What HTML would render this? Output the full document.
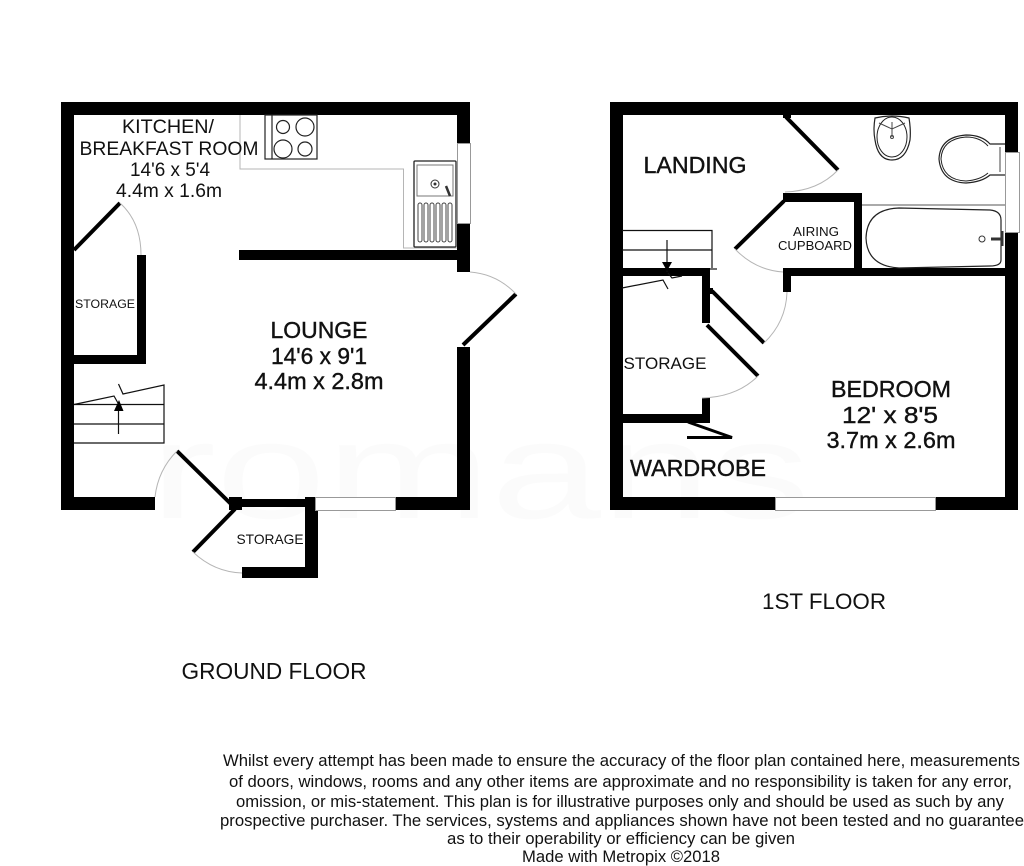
<!DOCTYPE html>
<html><head><meta charset="utf-8"><style>
html,body{margin:0;padding:0;background:#fff}
svg{display:block}
text{font-family:"Liberation Sans",sans-serif;fill:#111}
.c{text-anchor:middle}
.g{fill:none;stroke:#b5b5b5;stroke-width:1}
.d{stroke:#000;stroke-width:4;fill:none}
.l{stroke:#222;stroke-width:1.2;fill:none}
.w{fill:#fff;stroke:#999;stroke-width:1}
</style></head><body>
<svg width="1024" height="866" viewBox="0 0 1024 866" xmlns="http://www.w3.org/2000/svg">
<rect width="1024" height="866" fill="#fff"/>
<text x="150" y="518" font-size="138" textLength="660" lengthAdjust="spacingAndGlyphs" style="fill:#fbfbfb">romans</text>

<!-- GROUND FLOOR -->
<g fill="#000">
<rect x="61" y="102" width="409" height="13"/>
<rect x="61" y="102" width="13" height="408"/>
<rect x="61" y="497" width="94" height="13"/>
<rect x="457" y="102" width="13" height="170"/>
<rect x="457" y="347" width="13" height="163"/>
<rect x="395" y="497" width="75" height="13"/>
<rect x="239" y="250" width="218" height="10"/>
<rect x="137" y="255" width="9" height="109"/>
<rect x="74" y="355" width="72" height="9"/>
<rect x="229" y="497" width="13" height="13"/>
<rect x="240" y="499" width="70" height="8"/>
<rect x="305" y="497" width="13" height="81"/>
<rect x="242" y="567" width="76" height="11"/>
</g>
<rect class="w" x="457.500" y="143.500" width="13" height="80"/>
<rect class="w" x="315.500" y="497.500" width="80" height="13"/>
<!-- kitchen worktop -->
<path class="g" d="M240 115V169H403.500V248H457"/>
<rect x="265" y="115" width="52" height="44" fill="#fff" stroke="#222" stroke-width="1.2"/>
<line class="l" x1="272" y1="115" x2="272" y2="159" stroke-width="1"/>
<g class="l"><circle cx="283" cy="127" r="6.500"/><circle cx="305" cy="127" r="9"/><circle cx="283" cy="149" r="9"/><circle cx="305" cy="149" r="7"/></g>
<rect x="414" y="161" width="42" height="86" fill="#fff" stroke="#222" stroke-width="1.300" rx="1"/>
<rect x="417" y="165" width="36" height="31" fill="none" stroke="#777" stroke-width="1"/>
<circle cx="435" cy="184" r="4" fill="none" stroke="#333"/><circle cx="435" cy="184" r="1.500" fill="#333"/>
<path d="M446 186L450 196" stroke="#333" stroke-width="2.500" fill="none"/>
<g fill="none" stroke="#444" stroke-width="1">
<rect x="418" y="203" width="4" height="39" rx="2"/><rect x="424" y="203" width="4" height="39" rx="2"/><rect x="430" y="203" width="4" height="39" rx="2"/><rect x="436" y="203" width="4" height="39" rx="2"/><rect x="442" y="203" width="4" height="39" rx="2"/><rect x="448" y="203" width="4" height="39" rx="2"/>
</g>
<!-- doors -->
<line class="d" x1="74" y1="250" x2="120" y2="203"/>
<path class="g" d="M120 203Q141 222 141 255"/>
<line class="d" x1="463" y1="345" x2="516" y2="294" stroke-width="3"/>
<path class="g" d="M470 272Q497 274 516 294"/>
<line class="d" x1="177" y1="451" x2="232" y2="505"/>
<path class="g" d="M177 451Q158 470 155 497"/>
<line class="d" x1="193" y1="552" x2="235" y2="509"/>
<path class="g" d="M193 552Q214 572 242 573"/>
<!-- stairs -->
<g stroke="#111" stroke-width="1.200" fill="none">
<path d="M74 404.500L114 396L118.500 404M118.500 384L123 394L164 385V443H74"/>
<path d="M74 404.500H164M74 424H164"/>
<path d="M118.500 434V402"/>
</g>
<path d="M114 411H123.500L119 400Z" fill="#000"/>

<!-- FIRST FLOOR -->
<g fill="#000">
<rect x="610" y="102" width="408" height="13"/>
<rect x="610" y="102" width="13" height="408"/>
<rect x="610" y="497" width="165" height="13"/>
<rect x="935" y="497" width="83" height="13"/>
<rect x="1005" y="102" width="13" height="408"/>
<rect x="783" y="193" width="79" height="9"/>
<rect x="854" y="193" width="8" height="83"/>
<rect x="783" y="268" width="222" height="8"/>
<rect x="783" y="268" width="8" height="24"/>
<rect x="622" y="268" width="88" height="8"/>
<rect x="702" y="268" width="8" height="55"/>
<rect x="702" y="398" width="8" height="25"/>
<rect x="622" y="414" width="88" height="9"/>
<rect x="708" y="288" width="5" height="6"/>
<rect x="783" y="113" width="8" height="5"/>
</g>
<rect class="w" x="1005.500" y="152.500" width="14" height="80"/>
<rect class="w" x="775.500" y="497.500" width="160" height="13"/>
<!-- doors -->
<line class="d" x1="786" y1="117" x2="838" y2="170"/>
<path class="g" d="M838 170Q818 191 785 192"/>
<line class="d" x1="784" y1="201" x2="735" y2="249"/>
<path class="g" d="M735 249Q755 270 783 272"/>
<line class="d" x1="712" y1="291" x2="764" y2="343"/>
<path class="g" d="M764 343Q786 322 787 292"/>
<line class="d" x1="707" y1="325" x2="758" y2="376"/>
<path class="g" d="M758 376Q737 397 702 398"/>
<!-- wardrobe door -->
<path d="M688 422L732 437.500H687" stroke="#000" stroke-width="3" fill="none"/>
<!-- stairs -->
<g stroke="#111" stroke-width="1.200" fill="none">
<path d="M622 230.500H712V268M622 250H712"/>
<path d="M667 240V272"/>
<path d="M622 288L663 280L668 289M668 273L672 278L682 276"/>
<path d="M710 269H717"/>
</g>
<path d="M662 262H672L667 271Z" fill="#000"/>
<!-- bathroom -->
<line x1="862" y1="205" x2="1005" y2="205" stroke="#555" stroke-width="1"/>
<path d="M875 118Q892 114 909 118Q911 130 910 140Q906 160 892 160Q878 160 875 140Q873 130 875 118Z" fill="#fff" stroke="#222" stroke-width="1.200"/>
<ellipse cx="892" cy="137" rx="15" ry="20" fill="none" stroke="#222" stroke-width="1"/>
<path d="M879 123L892 129L905 123M892 122V137" stroke="#444" fill="none"/>
<circle cx="892" cy="137" r="1.500" fill="none" stroke="#444"/>
<path d="M1005 144H990Q982 135 966 135Q940 137 939 159Q941 182 966 183Q982 182 990 175H1005" fill="#fff" stroke="#222" stroke-width="1.200"/>
<path d="M988 146Q980 137 966 137Q942 139 941 159Q943 180 966 181Q980 180 988 173" fill="none" stroke="#222" stroke-width="1"/>
<line x1="1000" y1="147" x2="1000" y2="172" stroke="#444"/>
<path d="M899 208L990 210Q1001 211 1001 220V260Q1001 266 990 266L899 268Q867 266 866 238Q867 209 899 208Z" fill="#fff" stroke="#222" stroke-width="1.200"/>
<circle cx="982" cy="239" r="3" fill="none" stroke="#333"/>
<path d="M991 239H1001" stroke="#333" stroke-width="3"/>
<path d="M1002 231V246" stroke="#333" stroke-width="3"/>

<!-- LABELS -->
<text class="c" x="168" y="133" font-size="19.300" textLength="92" lengthAdjust="spacingAndGlyphs">KITCHEN/</text>
<text class="c" x="169" y="155" font-size="19.300" textLength="179" lengthAdjust="spacingAndGlyphs">BREAKFAST ROOM</text>
<text class="c" x="170" y="176" font-size="19.300" textLength="80" lengthAdjust="spacingAndGlyphs">14'6 x 5'4</text>
<text class="c" x="169" y="197" font-size="19.300" textLength="106" lengthAdjust="spacingAndGlyphs">4.4m x 1.6m</text>
<text class="c" x="105" y="308" font-size="12.300" textLength="60" lengthAdjust="spacingAndGlyphs">STORAGE</text>
<g stroke="#111" stroke-width=".4">
<text class="c" x="319" y="338" font-size="23" textLength="97" lengthAdjust="spacingAndGlyphs">LOUNGE</text>
<text class="c" x="319" y="364" font-size="23" textLength="96" lengthAdjust="spacingAndGlyphs">14'6 x 9'1</text>
<text class="c" x="319" y="389" font-size="23" textLength="129" lengthAdjust="spacingAndGlyphs">4.4m x 2.8m</text>
<text class="c" x="695" y="173" font-size="23" textLength="103" lengthAdjust="spacingAndGlyphs">LANDING</text>
<text class="c" x="698" y="476" font-size="23" textLength="136" lengthAdjust="spacingAndGlyphs">WARDROBE</text>
<text class="c" x="891" y="397" font-size="23" textLength="120" lengthAdjust="spacingAndGlyphs">BEDROOM</text>
<text class="c" x="890" y="423" font-size="23" textLength="96" lengthAdjust="spacingAndGlyphs">12' x 8'5</text>
<text class="c" x="891" y="448" font-size="23" textLength="129" lengthAdjust="spacingAndGlyphs">3.7m x 2.6m</text>
</g>
<text class="c" x="270" y="544" font-size="13.700" textLength="67" lengthAdjust="spacingAndGlyphs">STORAGE</text>
<text class="c" x="816" y="236" font-size="13" textLength="46" lengthAdjust="spacingAndGlyphs">AIRING</text>
<text class="c" x="815" y="250" font-size="13" textLength="74" lengthAdjust="spacingAndGlyphs">CUPBOARD</text>
<text class="c" x="665" y="369" font-size="17" textLength="83" lengthAdjust="spacingAndGlyphs">STORAGE</text>
<text class="c" x="274" y="679" font-size="23" textLength="185" lengthAdjust="spacingAndGlyphs">GROUND FLOOR</text>
<text class="c" x="824" y="609" font-size="22.300" textLength="124" lengthAdjust="spacingAndGlyphs">1ST FLOOR</text>
<g font-size="16.400">
<text class="c" x="621.500" y="766" textLength="797" lengthAdjust="spacingAndGlyphs">Whilst every attempt has been made to ensure the accuracy of the floor plan contained here, measurements</text>
<text class="c" x="620.500" y="787" textLength="783" lengthAdjust="spacingAndGlyphs">of doors, windows, rooms and any other items are approximate and no responsibility is taken for any error,</text>
<text class="c" x="620" y="807" textLength="768" lengthAdjust="spacingAndGlyphs">omission, or mis-statement. This plan is for illustrative purposes only and should be used as such by any</text>
<text class="c" x="622" y="826" textLength="804" lengthAdjust="spacingAndGlyphs">prospective purchaser. The services, systems and appliances shown have not been tested and no guarantee</text>
<text class="c" x="621" y="844" textLength="348" lengthAdjust="spacingAndGlyphs">as to their operability or efficiency can be given</text>
<text class="c" x="621" y="862" textLength="198" lengthAdjust="spacingAndGlyphs">Made with Metropix ©2018</text>
</g>
</svg>
</body></html>
